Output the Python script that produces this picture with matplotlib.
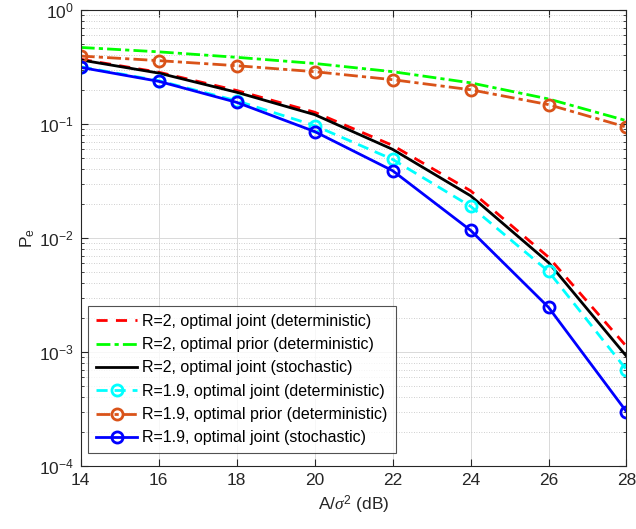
import matplotlib
matplotlib.use("Agg")
import matplotlib.pyplot as plt
import numpy as np
from matplotlib.ticker import LogLocator, NullFormatter

plt.rcParams['font.family'] = ['Liberation Sans', 'DejaVu Sans']
plt.rcParams['mathtext.fontset'] = 'custom'
plt.rcParams['mathtext.rm'] = 'Liberation Sans'
plt.rcParams['mathtext.it'] = 'Liberation Serif:italic'

snr = [14, 16, 18, 20, 22, 24, 26, 28]

r2_joint_det = [0.37, 0.285, 0.197, 0.127, 0.065, 0.026, 0.0068, 0.00112]
r2_prior_det = [0.47, 0.43, 0.385, 0.34, 0.288, 0.23, 0.166, 0.107]
r2_joint_sto = [0.365, 0.28, 0.19, 0.121, 0.06, 0.0235, 0.0061, 0.00092]
r19_joint_det = [0.318, 0.24, 0.16, 0.097, 0.049, 0.019, 0.0051, 0.0007]
r19_prior_det = [0.395, 0.36, 0.325, 0.288, 0.245, 0.2, 0.148, 0.094]
r19_joint_sto = [0.314, 0.237, 0.155, 0.086, 0.039, 0.0117, 0.00247, 0.0003]

labels = ['R=2, optimal joint (deterministic)',
          'R=2, optimal prior (deterministic)',
          'R=2, optimal joint (stochastic)',
          'R=1.9, optimal joint (deterministic)',
          'R=1.9, optimal prior (deterministic)',
          'R=1.9, optimal joint (stochastic)']

orange = (0.85, 0.325, 0.098)
dark = (0.15, 0.15, 0.15)

fig = plt.figure(figsize=(6.36, 5.29), dpi=100)
ax = fig.add_axes([0.127, 0.119, 0.858, 0.862])

lw = 2.0
ax.plot(snr, r2_joint_det, color='red', ls=(0, (4, 3)), lw=lw, label=labels[0])
ax.plot(snr, r2_prior_det, color=(0, 1, 0), ls=(0, (5, 1.5, 1.5, 1.5)), lw=lw, label=labels[1])
ax.plot(snr, r2_joint_sto, color='black', ls='-', lw=lw, label=labels[2])
ax.plot(snr, r19_joint_det, color='cyan', ls=(0, (4, 2.5)), lw=lw, marker='o',
        ms=8, mfc='none', mew=2, label=labels[3])
ax.plot(snr, r19_prior_det, color=orange, ls=(0, (5, 1.5, 1.5, 1.5)), lw=lw, marker='o',
        ms=8, mfc='none', mew=2, label=labels[4])
ax.plot(snr, r19_joint_sto, color='blue', ls='-', lw=lw, marker='o',
        ms=8, mfc='none', mew=2, label=labels[5])

ax.set_yscale('log')
ax.set_xlim(14, 28)
ax.set_ylim(1e-4, 1)
ax.set_xticks(snr)
ax.yaxis.set_major_locator(LogLocator(base=10, numticks=10))
ax.yaxis.set_minor_locator(LogLocator(base=10, subs=np.arange(2, 10), numticks=50))
ax.yaxis.set_minor_formatter(NullFormatter())

ax.grid(True, which='major', color=(0.85, 0.85, 0.85), lw=0.7, ls='-')
ax.grid(True, which='minor', axis='y', color=(0.75, 0.75, 0.75), lw=0.6, ls=(0, (1, 2)))
ax.set_axisbelow(True)

ax.tick_params(which='both', direction='in', top=True, right=True, labelsize=12.5,
               colors=dark)
ax.tick_params(which='major', length=5, pad=5)
ax.tick_params(which='minor', length=2.5)
for s in ax.spines.values():
    s.set_color(dark)
    s.set_linewidth(0.8)

ax.set_xlabel(r'A/$\sigma^2$ (dB)', fontsize=12.5, color=dark)
ax.set_ylabel(r'P$_\mathrm{e}$', fontsize=12.5, color=dark, labelpad=1)

leg = ax.legend(loc='lower left', bbox_to_anchor=(0.0, 0.012), fontsize=11.5,
                frameon=True, fancybox=False, edgecolor=dark,
                handlelength=2.6, handletextpad=0.3, labelspacing=0.52,
                borderpad=0.5, borderaxespad=0.45)
leg.get_frame().set_linewidth(0.8)

fig.savefig('out.png', dpi=100)
